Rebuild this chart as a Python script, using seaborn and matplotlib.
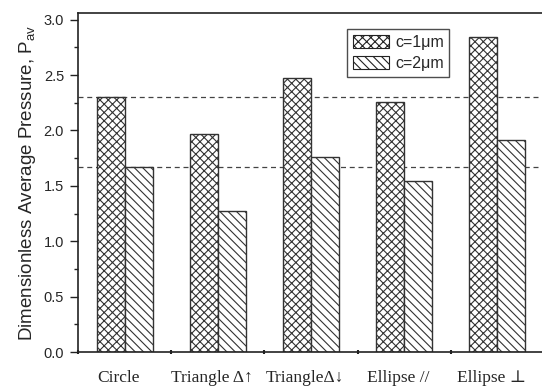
import matplotlib
matplotlib.use("Agg")
import matplotlib.pyplot as plt
import matplotlib.transforms as mtransforms
import seaborn as sns
import pandas as pd
from matplotlib.patches import Patch
from matplotlib.ticker import MultipleLocator, FixedLocator

categories = ["Circle", "Triangle Δ↑", "TriangleΔ↓", "Ellipse //", "Ellipse ⊥"]
series_names = ["c=1\u03bcm", "c=2\u03bcm"]
c1_values = [2.30, 1.97, 2.47, 2.26, 2.84]
c2_values = [1.67, 1.27, 1.76, 1.54, 1.91]
ref_lines = [2.30, 1.67]
hatches = ["xxxx", "\\\\\\\\"]

df = pd.DataFrame({
    "shape": categories * 2,
    "series": [series_names[0]] * len(categories) + [series_names[1]] * len(categories),
    "value": c1_values + c2_values,
})

sns.set_style("ticks")
plt.rcParams["font.family"] = ["Liberation Sans", "DejaVu Sans"]
plt.rcParams["hatch.linewidth"] = 0.8

W, H = 542, 389
fig = plt.figure(figsize=(W / 100, H / 100), dpi=100)
ax = fig.add_axes([78 / W, (H - 352) / H, (544 - 78) / W, (352 - 13) / H])

sns.barplot(data=df, x="shape", y="value", hue="series", order=categories,
            hue_order=series_names, palette=["white", "white"], width=0.6,
            dodge=True, legend=False, ax=ax, edgecolor="#333333", linewidth=1.0,
            saturation=1)

for cont, h in zip(ax.containers, hatches):
    for bar in cont:
        bar.set_hatch(h)
        bar.set_edgecolor("#333333")

for y in ref_lines:
    ax.axhline(y, color="#444444", lw=0.9, ls=(0, (4, 3)), zorder=0.5)

ax.set_xlim(-0.5, 4.5)
ax.set_ylim(0, 3.06)
ax.yaxis.set_major_locator(MultipleLocator(0.5))
ax.yaxis.set_minor_locator(MultipleLocator(0.25))
ax.tick_params(axis="y", which="major", direction="out", length=6, width=1,
               labelsize=10.5, color="#222222", pad=4)
ax.tick_params(axis="y", which="minor", direction="out", length=3, width=1,
               color="#222222")
ax.set_yticklabels([f"{v:.1f}" for v in ax.get_yticks()])

ax.xaxis.set_minor_locator(FixedLocator([-0.5, 0.5, 1.5, 2.5, 3.5]))
ax.tick_params(axis="x", which="major", length=0, pad=13)
ax.tick_params(axis="x", which="minor", direction="inout", length=3, width=1.5,
               color="#222222")
shift = mtransforms.ScaledTranslation(-6 / 100, 0, fig.dpi_scale_trans)
for lab in ax.get_xticklabels():
    lab.set_family(["Liberation Serif", "DejaVu Serif"])
    lab.set_fontsize(12.5)
    lab.set_transform(lab.get_transform() + shift)

ax.set_xlabel("")
ax.set_ylabel(r"Dimensionless Average Pressure, P$_{\mathregular{av}}$",
              fontsize=13.5, labelpad=4)

for s in ["left", "top", "bottom", "right"]:
    ax.spines[s].set_visible(True)
    ax.spines[s].set_color("#222222")
    ax.spines[s].set_linewidth(1.2)

handles = [Patch(facecolor="white", edgecolor="#222222", hatch=h, label=n, lw=0.8)
           for h, n in zip(hatches, series_names)]
leg = ax.legend(handles=handles, loc="upper left",
                bbox_to_anchor=((347 - 78) / (544 - 78), (352 - 29) / (352 - 13)),
                frameon=True, fancybox=False, fontsize=11.5, handlelength=2.25,
                handleheight=0.9, handletextpad=0.4, borderpad=0.35,
                labelspacing=0.4, borderaxespad=0)
leg.get_frame().set_edgecolor("#222222")
leg.get_frame().set_linewidth(1.0)

fig.savefig("out.png", dpi=100)
